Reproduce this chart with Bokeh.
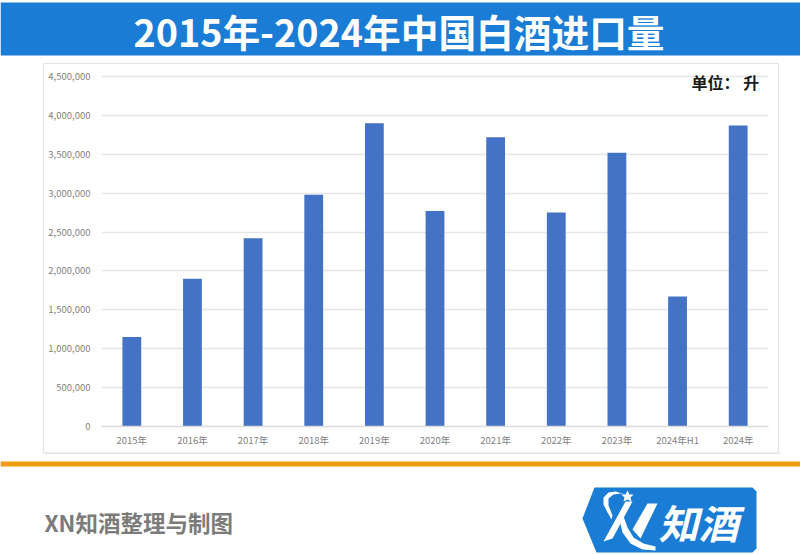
from bokeh.embed import file_html
from bokeh.layouts import column
from bokeh.models import BoxAnnotation, FixedTicker, Label, NumeralTickFormatter, PolyAnnotation
from bokeh.plotting import figure
from bokeh.resources import INLINE

categories = ["2015年", "2016年", "2017年", "2018年", "2019年", "2020年",
              "2021年", "2022年", "2023年", "2024年H1", "2024年"]
volumes = [1150000, 1900000, 2420000, 2980000, 3900000, 2770000,
           3720000, 2750000, 3520000, 1670000, 3870000]
y_ticks = [0, 500000, 1000000, 1500000, 2000000, 2500000, 3000000, 3500000, 4000000, 4500000]

title_text = "2015年-2024年中国白酒进口量"
unit_text = "单位： 升"
credit_text = "XN知酒整理与制图"
logo_text = "知酒"

FONT = "Noto Sans CJK SC"
BLUE = "#1a7cd4"
PANEL_LINE = "#e0e4e6"


def text(fig, x, y, s, size, color, align="left", style="bold"):
    fig.add_layout(Label(x=x, y=y, x_units="canvas", y_units="canvas", text=s,
                         text_font=FONT, text_font_size=size, text_color=color,
                         text_font_style=style, text_align=align, text_baseline="middle"))


def box(fig, l, t, r, b, fill):
    fig.add_layout(BoxAnnotation(left=l, right=r, top=t, bottom=b,
                                 left_units="canvas", right_units="canvas",
                                 top_units="canvas", bottom_units="canvas",
                                 fill_color=fill, fill_alpha=1, line_color=None,
                                 level="underlay"))


def poly(fig, pts, fill="white", oy=0):
    fig.add_layout(PolyAnnotation(xs=[a for a, _ in pts], ys=[b - oy for _, b in pts],
                                  xs_units="canvas", ys_units="canvas",
                                  fill_color=fill, fill_alpha=1, line_color=None,
                                  level="annotation"))


def strip(height):
    f = figure(width=800, height=height, x_range=(0, 800), y_range=(0, height),
               x_axis_location=None, y_axis_location=None,
               output_backend="svg", toolbar_location=None,
               min_border=0, margin=0, frame_align=False)
    f.grid.visible = False
    f.outline_line_color = None
    f.background_fill_color = "white"
    f.border_fill_color = "white"
    return f


# banner (page y 0-64)
head = strip(64)
box(head, 0, 2, 800, 55, BLUE)
text(head, 398.5, 30, title_text, "37.7px", "white", "center")

# chart panel (page y 64-452, x 44-778)
p = figure(x_range=categories, y_range=(0, 4628571), width=734, height=388,
           output_backend="svg", toolbar_location=None,
           min_border_left=57, min_border_right=10, min_border_top=2, min_border_bottom=26,
           margin=(0, 22, 0, 44), frame_align=False,
           styles={"outline": f"1.5px solid {PANEL_LINE}", "outline-offset": "0px"})
p.outline_line_color = None
p.background_fill_color = "white"
p.border_fill_color = "white"
p.xgrid.grid_line_color = None
p.ygrid.grid_line_color = "#e6e6e6"
p.ygrid.grid_line_width = 1.5

p.vbar(x=categories, top=volumes, width=0.31, color="#4472c4", line_color=None)

p.yaxis.ticker = FixedTicker(ticks=y_ticks)
p.yaxis.formatter = NumeralTickFormatter(format="0,0")
p.yaxis.axis_line_color = None
p.yaxis.minor_tick_line_color = None
p.yaxis.major_label_standoff = 11
p.xaxis.axis_line_color = "#dcdcdc"
p.xaxis.axis_line_width = 1.5
p.xaxis.minor_tick_line_color = None
p.xaxis.major_label_standoff = 6
for ax in (p.xaxis, p.yaxis):
    ax.major_tick_line_color = None
    ax.major_tick_in = 0
    ax.major_tick_out = 0
    ax.major_label_text_font = FONT
    ax.major_label_text_font_size = "9.5px"
    ax.major_label_text_color = "#7f7f7f"

text(p, 691 - 44, 81 - 64, unit_text, "16px", "#1a1a1a", "left")

# footer (page y 452-554)
foot = strip(102)
OY = 452
box(foot, 43, 0, 779.5, 1.5, PANEL_LINE)
box(foot, 0, 461 - OY, 800, 466 - OY, "#f09a12")
text(foot, 44, 521 - OY, credit_text, "22.5px", "#7b7b7b", "left")
poly(foot, [(582, 518), (594, 487), (752, 487), (756, 491), (756, 548), (752, 552), (596, 552)], BLUE, OY)
poly(foot, [(625, 494), (615, 491), (608, 492), (603, 497), (603, 504), (607, 512), (611, 519),
            (612, 515), (608, 505), (608, 498), (613, 494), (620, 493)], oy=OY)
poly(foot, [(625, 501), (632, 501), (612, 538), (603, 541)], oy=OY)
poly(foot, [(618, 515), (622, 513), (627, 527), (633, 537), (643, 543), (655, 546), (655, 550),
            (642, 549), (630, 543), (622, 532)], oy=OY)
poly(foot, [(647, 503), (657, 503), (640, 538), (632, 529)], oy=OY)
poly(foot, [(627, 490), (629, 494), (633, 494), (630, 497), (631, 501), (627, 499), (623, 501),
            (624, 497), (621, 494), (625, 494)], oy=OY)
text(foot, 698, 521 - OY, logo_text, "40px", "white", "center", "bold italic")

page = column(head, p, foot, spacing=0, margin=0)
open("out.html", "w").write(file_html(page, INLINE))
